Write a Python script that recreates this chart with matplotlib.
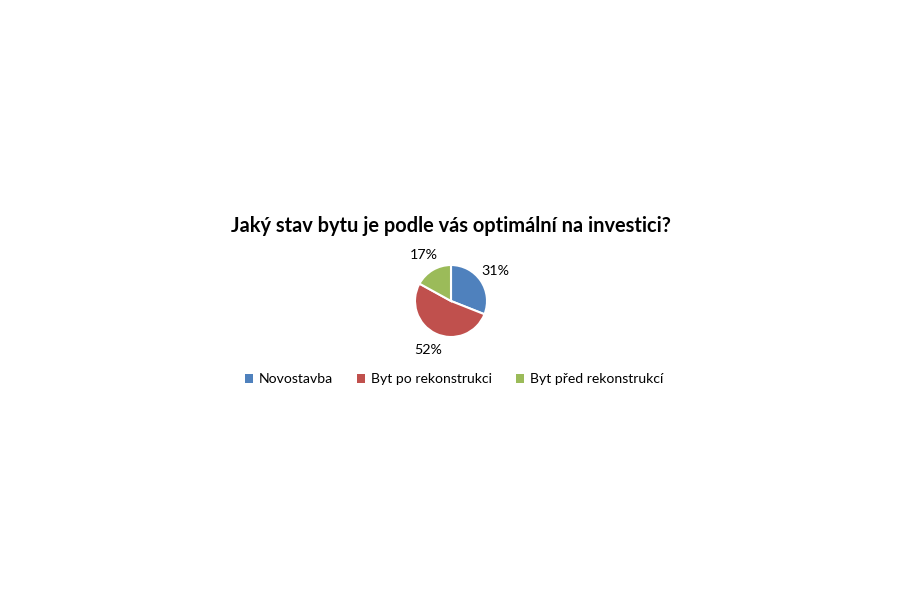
import matplotlib.pyplot as plt
from matplotlib.patches import Patch

labels = ["Novostavba", "Byt po rekonstrukci", "Byt před rekonstrukcí"]
shares = [31, 52, 17]
colors = ["#4F81BD", "#C0504D", "#9BBB59"]

plt.rcParams["font.family"] = ["Lato", "DejaVu Sans"]

fig = plt.figure(figsize=(9, 6), dpi=100)
# pie centre at (451, 301) px, radius about 36 px
r = 36
ax = fig.add_axes([(451 - r) / 900, (600 - 301 - r) / 600, 2 * r / 900, 2 * r / 600])
wedges, texts, autotexts = ax.pie(
    shares, colors=colors, startangle=90, counterclock=False,
    autopct="%1.0f%%", pctdistance=1.5,
    wedgeprops=dict(edgecolor="white", linewidth=1.5),
    textprops=dict(fontsize=10.3, color="#000000"),
)
ax.set_xlim(-1, 1)
ax.set_ylim(-1, 1)
for t in autotexts:
    t.set_clip_on(False)

fig.text(451 / 900, 1 - 226 / 600, "Jaký stav bytu je podle vás optimální na investici?",
         ha="center", va="center", fontsize=14.4, fontweight="bold")

handles = [Patch(facecolor=c, edgecolor="none") for c in colors]
fig.legend(handles, labels, loc="center", bbox_to_anchor=(454 / 900, 1 - 379 / 600),
           ncol=3, frameon=False, fontsize=10.1, handlelength=0.6, handleheight=0.6,
           handletextpad=0.4, columnspacing=1.7)

fig.savefig("out.png", dpi=100)
